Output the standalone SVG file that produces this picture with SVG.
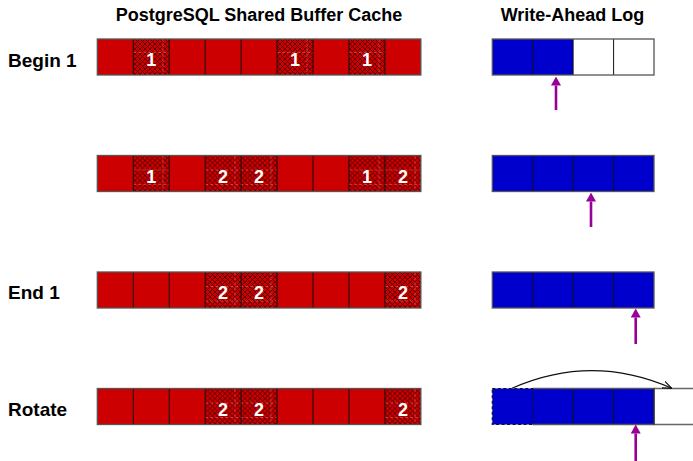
<svg xmlns="http://www.w3.org/2000/svg" xmlns:xlink="http://www.w3.org/1999/xlink" width="693" height="461" viewBox="0 0 693 461">
<style>
.title{font-family:"Liberation Sans",Arial,sans-serif;font-weight:bold;font-size:18px;fill:#000}
.lbl{font-family:"Liberation Sans",Arial,sans-serif;font-weight:bold;font-size:19px;fill:#000}
.num{font-family:"Liberation Sans",Arial,sans-serif;font-weight:bold;font-size:18px;fill:#fff;text-anchor:middle}
.red{fill:#cc0000}
.hat{fill:url(#hatch)}
.seam{stroke:#ff9090;stroke-width:0.6;stroke-dasharray:3 2;opacity:0.7;fill:none}
.div{stroke:#111;stroke-width:1;fill:none}
.out{stroke:#555;stroke-width:1.3;fill:none}
.blue{fill:#0000cc}
.ptr{stroke:#990099;stroke-width:2.6;fill:none;marker-end:url(#ptrhead)}
</style>
<defs>
<pattern id="hatch" width="5" height="5" patternUnits="userSpaceOnUse">
<rect width="5" height="5" fill="#cc0000"/>
<path d="M0,0 L5,5 M5,0 L0,5" stroke="#550000" stroke-width="0.9"/>
</pattern>
<marker id="ptrhead" viewBox="0 0 9 10" refX="0" refY="5" markerWidth="9" markerHeight="10" markerUnits="userSpaceOnUse" orient="auto">
<path d="M0,0 L9,5 L0,10 z" fill="#990099"/>
</marker>
<marker id="openhead" viewBox="0 0 10 10" refX="10" refY="5" markerWidth="9" markerHeight="9" markerUnits="userSpaceOnUse" orient="auto">
<path d="M0,1 L10,5 L0,9" fill="none" stroke="#111" stroke-width="1.3"/>
</marker>
<g id="bufgrid">
<path class="div" d="M133.25,0V36M169.2,0V36M205.15,0V36M241.1,0V36M277.05,0V36M313,0V36M348.95,0V36M384.9,0V36"/>
<rect class="out" x="97.3" y="0" width="323.55" height="36"/>
</g>
<g id="walgrid">
<path class="div" d="M532.7,0V36M573.1,0V36M613.6,0V36"/>
<rect class="out" x="492.3" y="0" width="161.7" height="36"/>
</g>
</defs>
<rect width="693" height="461" fill="#fff"/>

<g id="titles">
<text class="title" x="259" y="20.5" text-anchor="middle">PostgreSQL Shared Buffer Cache</text>
<text class="title" x="572.5" y="20.5" text-anchor="middle">Write-Ahead Log</text>
</g>

<g id="labels">
<text class="lbl" x="8" y="66.5">Begin 1</text>
<text class="lbl" x="8" y="299.3">End 1</text>
<text class="lbl" x="8" y="415.5">Rotate</text>
</g>

<g id="buffer-begin1" transform="translate(0,39)">
<rect class="red" x="97.3" y="0" width="323.55" height="36"/>
<rect class="hat" x="133.25" y="0" width="35.95" height="36"/>
<rect class="hat" x="277.05" y="0" width="35.95" height="36"/>
<rect class="hat" x="348.95" y="0" width="35.95" height="36"/>
<path class="seam" d="M133.25,13.5h35.95M163,0v36M277.05,13.5h35.95M307,0v36M348.95,13.5h35.95M379,0v36"/>
<use xlink:href="#bufgrid"/>
<text class="num" x="151.2" y="27">1</text>
<text class="num" x="295" y="27">1</text>
<text class="num" x="366.9" y="27">1</text>
</g>

<g id="buffer-step2" transform="translate(0,155.5)">
<rect class="red" x="97.3" y="0" width="323.55" height="36"/>
<rect class="hat" x="133.25" y="0" width="35.95" height="36"/>
<rect class="hat" x="205.15" y="0" width="71.9" height="36"/>
<rect class="hat" x="348.95" y="0" width="71.9" height="36"/>
<path class="seam" d="M133.25,14.5h35.95M205.15,14.5h71.9M348.95,14.5h71.9M133.25,29h35.95M205.15,29h71.9M348.95,29h71.9M163,0v36M235,0v36M271,0v36M379,0v36M415,0v36"/>
<use xlink:href="#bufgrid"/>
<text class="num" x="151.2" y="27">1</text>
<text class="num" x="223.1" y="27">2</text>
<text class="num" x="259.1" y="27">2</text>
<text class="num" x="366.9" y="27">1</text>
<text class="num" x="402.9" y="27">2</text>
</g>

<g id="buffer-end1" transform="translate(0,272)">
<rect class="red" x="97.3" y="0" width="323.55" height="36"/>
<rect class="hat" x="205.15" y="0" width="71.9" height="36"/>
<rect class="hat" x="384.9" y="0" width="35.95" height="36"/>
<path class="seam" d="M205.15,14.5h71.9M384.9,14.5h35.95M205.15,29h71.9M384.9,29h35.95M235,0v36M271,0v36M415,0v36"/>
<use xlink:href="#bufgrid"/>
<text class="num" x="223.1" y="27">2</text>
<text class="num" x="259.1" y="27">2</text>
<text class="num" x="402.9" y="27">2</text>
</g>

<g id="buffer-rotate" transform="translate(0,388.5)">
<rect class="red" x="97.3" y="0" width="323.55" height="36"/>
<rect class="hat" x="205.15" y="0" width="71.9" height="36"/>
<rect class="hat" x="384.9" y="0" width="35.95" height="36"/>
<path class="seam" d="M205.15,14.5h71.9M384.9,14.5h35.95M205.15,29h71.9M384.9,29h35.95M235,0v36M271,0v36M415,0v36"/>
<use xlink:href="#bufgrid"/>
<text class="num" x="223.1" y="27">2</text>
<text class="num" x="259.1" y="27">2</text>
<text class="num" x="402.9" y="27">2</text>
</g>

<g id="wal-begin1" transform="translate(0,39)">
<rect class="blue" x="492.3" y="0" width="80.8" height="36"/>
<use xlink:href="#walgrid"/>
</g>

<g id="wal-step2" transform="translate(0,155.5)">
<rect class="blue" x="492.3" y="0" width="161.7" height="36"/>
<use xlink:href="#walgrid"/>
</g>

<g id="wal-end1" transform="translate(0,272)">
<rect class="blue" x="492.3" y="0" width="161.7" height="36"/>
<use xlink:href="#walgrid"/>
</g>

<g id="wal-rotate" transform="translate(0,388.5)">
<rect class="blue" x="492.3" y="0" width="161.7" height="36"/>
<path class="div" d="M573.1,0V36M613.6,0V36"/>
<path d="M532.7,0H654V36H532.7" fill="none" stroke="#555" stroke-width="1.3"/>
<rect x="492.3" y="0" width="40.4" height="36" fill="none" stroke="#111" stroke-width="1.2" stroke-dasharray="3 2.5"/>
<path d="M654,0H693M654,36H693" fill="none" stroke="#666" stroke-width="1.3"/>
<path class="div" d="M654,0V36"/>
</g>

<g id="connectors">
<path class="ptr" d="M556,110V85.5"/>
<path class="ptr" d="M591,227V201.5"/>
<path class="ptr" d="M635.7,344V317.5"/>
<path class="ptr" d="M635.7,461V433.5"/>
<path d="M512,388.3Q592,353 671.7,388.3" fill="none" stroke="#111" stroke-width="1.2" marker-end="url(#openhead)"/>
</g>
</svg>
